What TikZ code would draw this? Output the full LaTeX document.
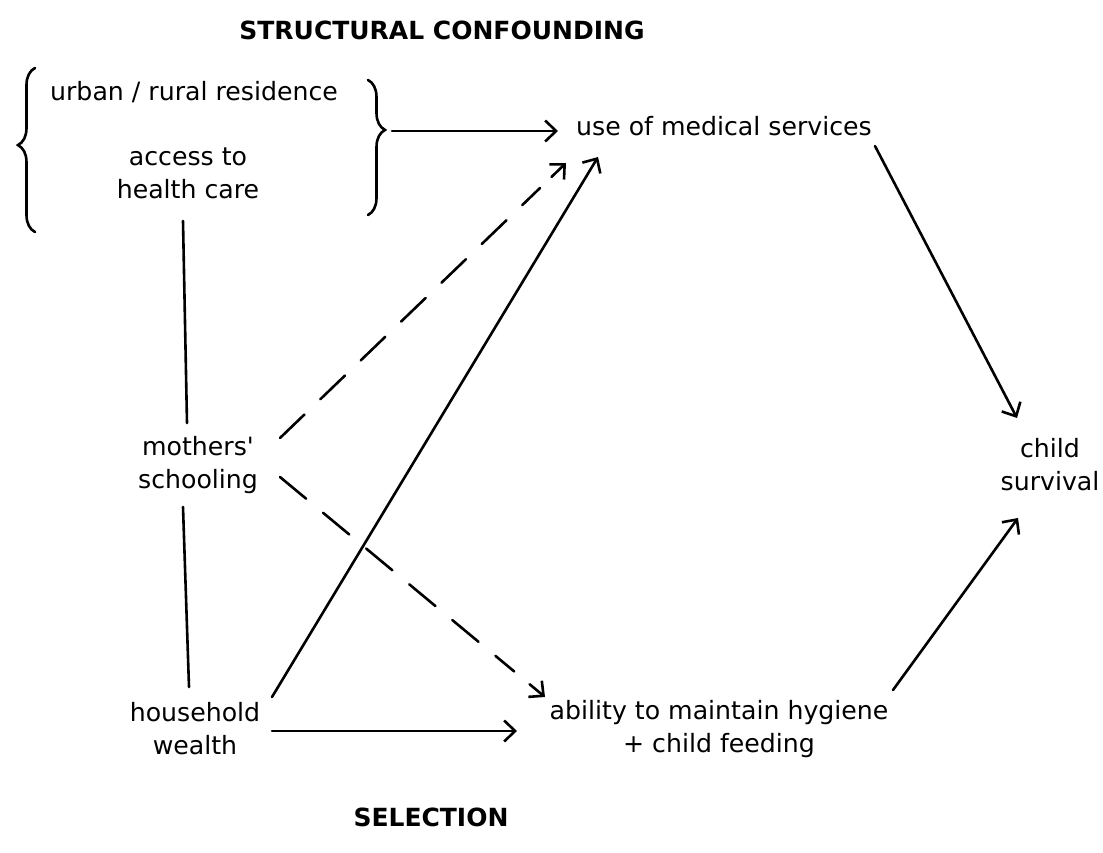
\documentclass[tikz,border=0pt]{standalone}
\usepackage{fontspec}
\setmainfont{DejaVu Sans}
\usetikzlibrary{arrows.meta,calc,decorations.pathreplacing}

\tikzset{
  label/.style={align=center, inner sep=0pt, font=\fontsize{25.2}{33}\selectfont},
  heading/.style={inner sep=0pt, font=\bfseries\fontsize{25}{30}\selectfont},
  link/.style={line width=2.6pt, line cap=round},
  arrow/.style={link, -{Straight Barb[length=11pt,width=21pt,line width=2.6pt]}},
  dashes/.style={link, dash pattern=on 34pt off 22pt},
  curly/.style={line width=2.6pt, line cap=round, decorate,
    decoration={brace, amplitude=17pt, raise=0pt}},
}

\begin{document}
\begin{tikzpicture}[x=1pt, y=-1pt]
  % page frame
  \path[fill=white] (0,0) rectangle (1103,852);

  % headings
  \node[heading] (title) at (442,30) {STRUCTURAL CONFOUNDING};
  \node[heading] (sel) at (431,817) {SELECTION};

  % variables
  \node[label] (urban) at (194,92) {urban / rural residence};
  \node[label] (access) at (188,173) {access to\\health care};
  \node[label] (use) at (724,126) {use of medical services};
  \node[label] (mothers) at (198,465) {mothers\textquotesingle\\schooling};
  \node[label] (wealth) at (195,729) {household\\wealth};
  \node[label] (hygiene) at (719,729) {ability to maintain hygiene\\+ child feeding};
  \node[label] (child) at (1050,465) {child\\survival};

  % braces grouping the context variables
  \coordinate (lbottom) at (35,232);
  \coordinate (ltop) at (35,68);
  \coordinate (rtop) at (368,80);
  \coordinate (rbottom) at (368,215);
  \coordinate (rtip) at (392,131);
  \draw[curly, decoration={aspect=0.53}] (lbottom) -- (ltop);
  \draw[curly, decoration={aspect=0.37}] (rtop) -- (rbottom);

  % undirected associations
  \draw[link] ($(access)+(-5,48)$) -- ($(mothers)+(-11,-42)$);
  \draw[link] ($(mothers)+(-15,42)$) -- ($(wealth)+(-6,-42)$);

  % causal paths
  \draw[arrow] (rtip) -- ($(use)+(-166,5)$);
  \draw[arrow] ($(wealth)+(77,-32)$) -- ($(use)+(-126,31)$);
  \draw[arrow] ($(wealth)+(77,2)$) -- ($(hygiene)+(-202,2)$);
  \draw[arrow] ($(use)+(151,20)$) -- ($(child)+(-33,-47)$);
  \draw[arrow] ($(hygiene)+(174,-39)$) -- ($(child)+(-32,53)$);

  % weaker (dashed) paths from schooling, each ending in a solid tip
  \coordinate (s1) at ($(mothers)+(82,-27)$);
  \coordinate (e1) at ($(use)+(-158,37)$);
  \coordinate (s2) at ($(mothers)+(82,12)$);
  \coordinate (e2) at ($(hygiene)+(-174,-32)$);
  \draw[dashes] (s1) -- ($(e1)!36pt!(s1)$);
  \draw[arrow] ($(e1)!20pt!(s1)$) -- (e1);
  \draw[dashes] (s2) -- ($(e2)!40pt!(s2)$);
  \draw[arrow] ($(e2)!20pt!(s2)$) -- (e2);
\end{tikzpicture}
\end{document}
